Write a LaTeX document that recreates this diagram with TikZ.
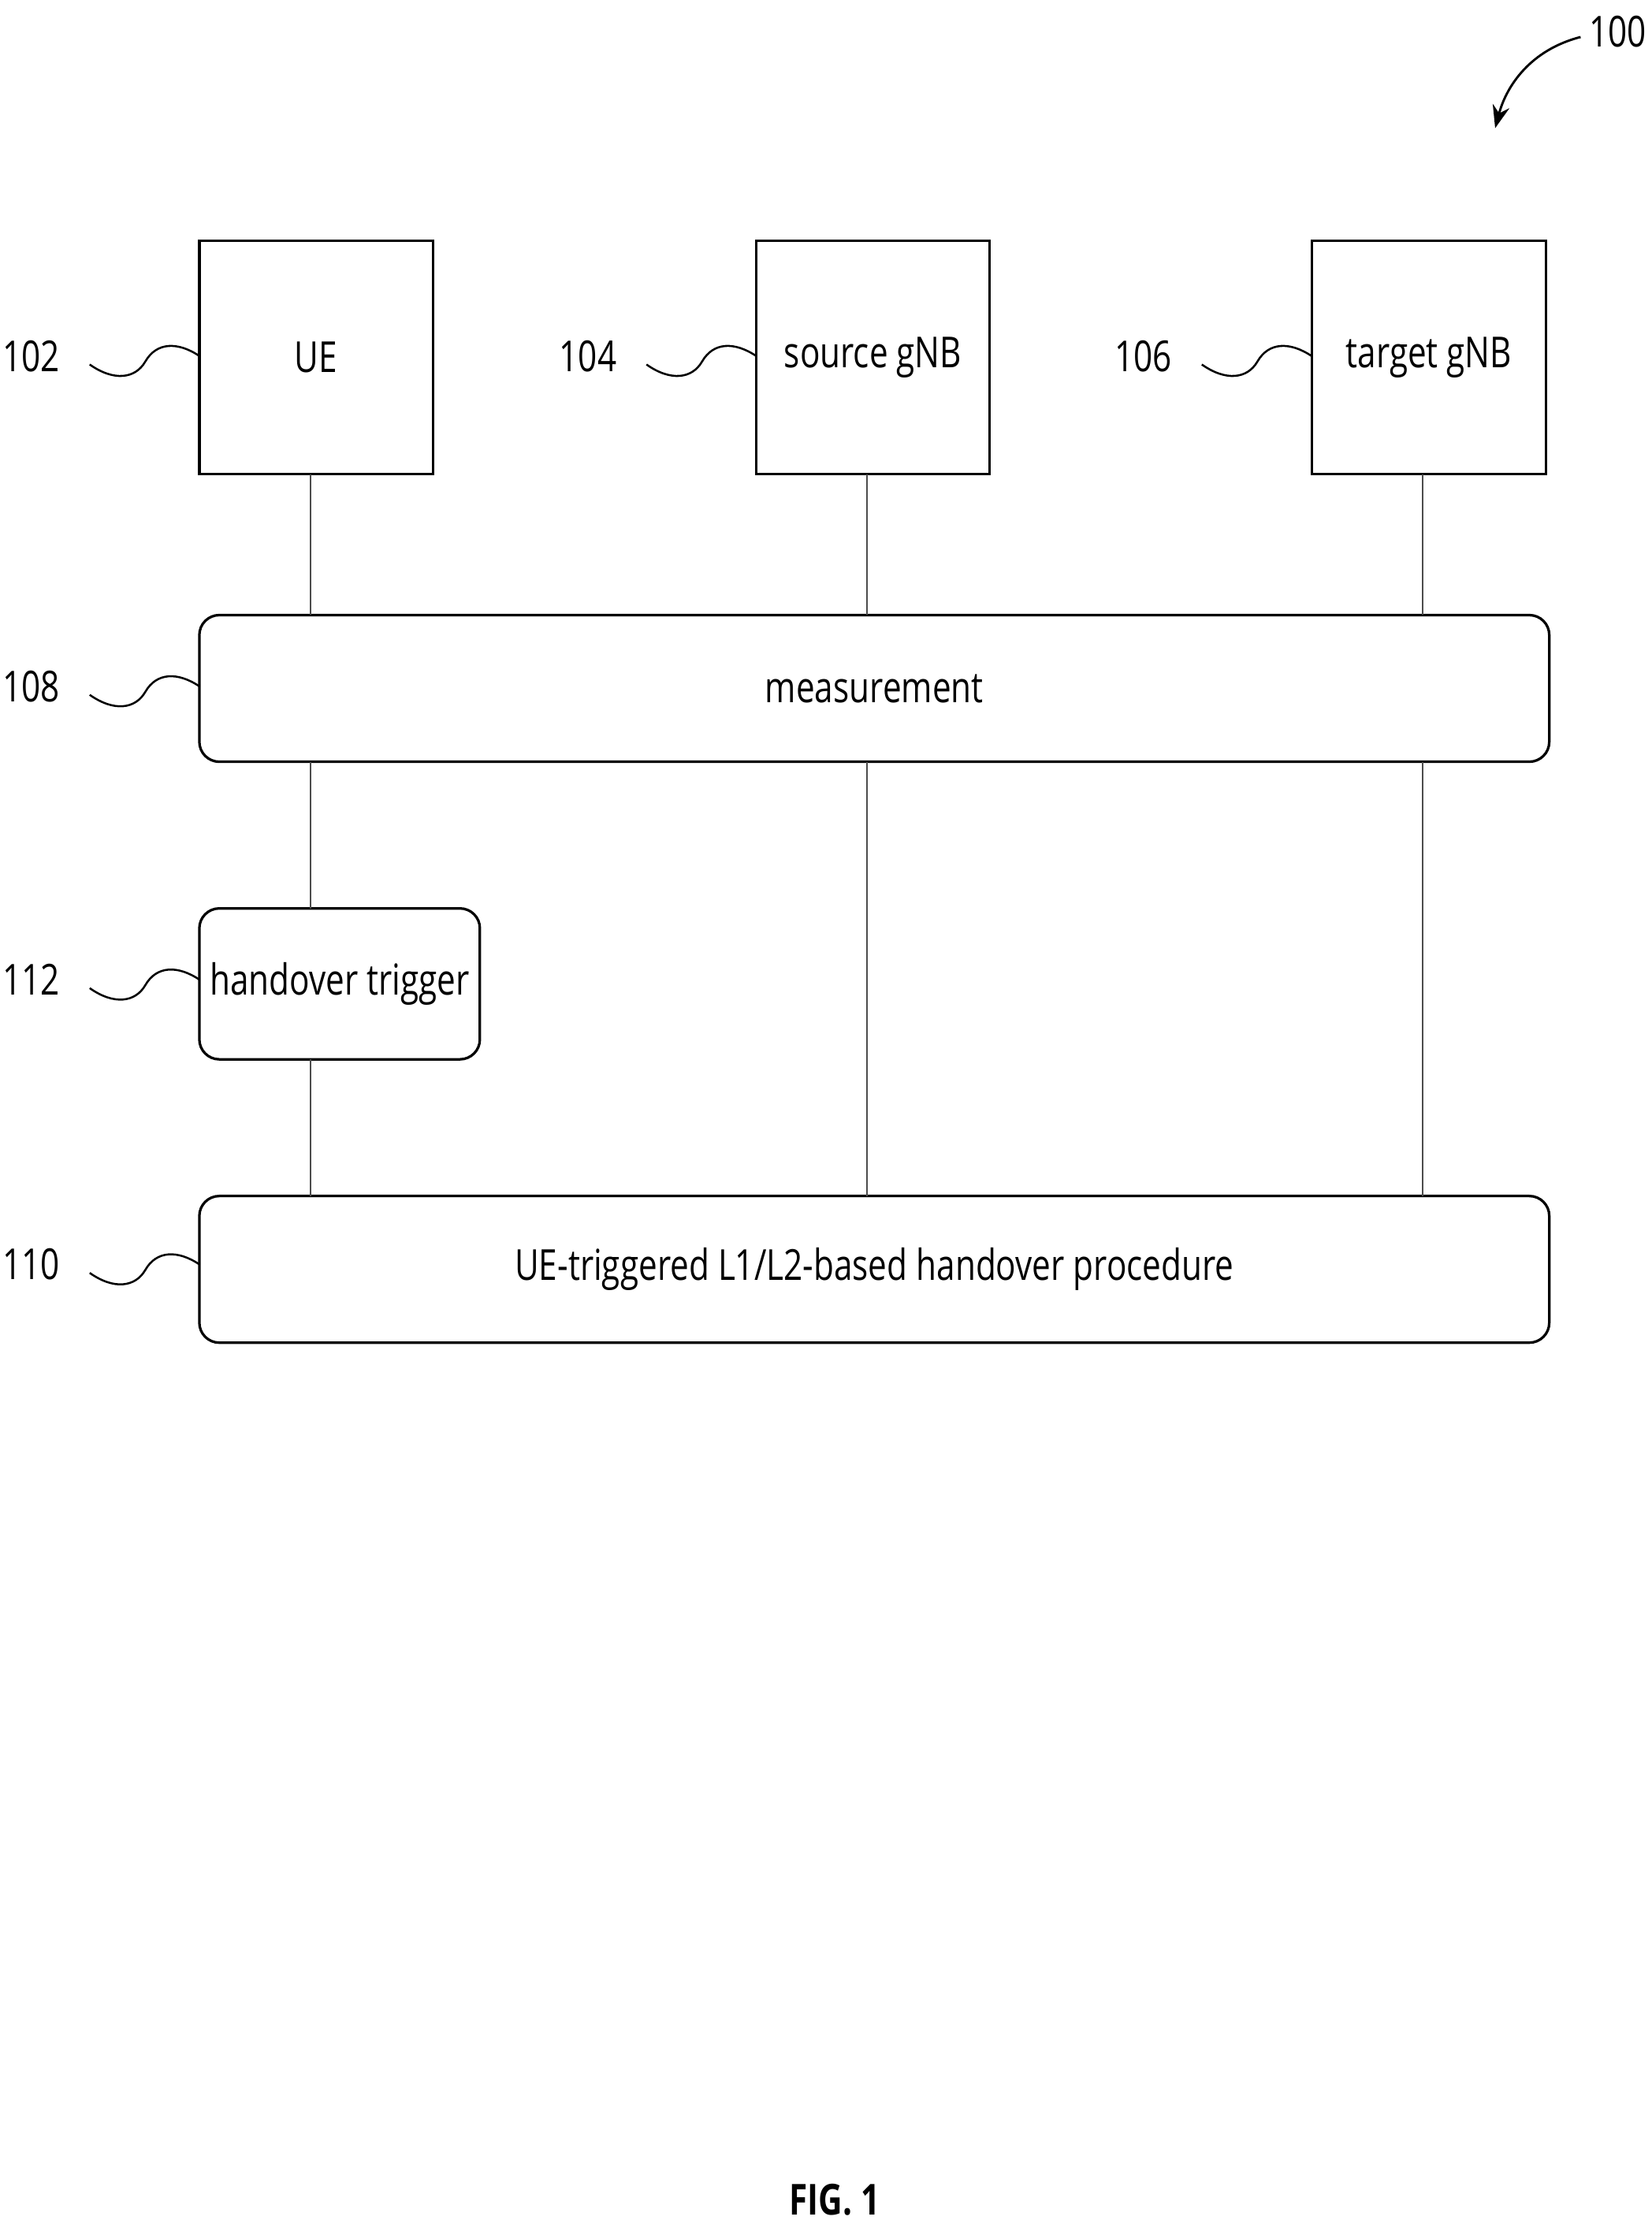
\documentclass[tikz,border=0pt]{standalone}
\usepackage{fontspec}
\setmainfont[FakeStretch=0.78]{Open Sans}
\usetikzlibrary{positioning,arrows.meta}
\tikzset{
  entity/.style={draw, line width=0.9pt, minimum width=82pt, minimum height=82pt, inner sep=0pt, font=\fontsize{15}{15}\selectfont},
  phase/.style={draw, line width=0.9pt, rounded corners=7pt, inner sep=0pt, font=\fontsize{15}{15}\selectfont},
  life/.style={line width=0.5pt, black!70},
  ref/.style={font=\fontsize{15}{15}\selectfont, anchor=east},
  squig/.style={line width=0.7pt}
}
\newcommand{\squiggle}[3]{% label, x shift, y
  \begin{scope}[xshift=#2*0.5pt]
  \draw[squig] (63,#3+4) .. controls (80,#3+16) and (95,#3+14) .. (102,#3+2)
     .. controls (110,#3-12) and (125,#3-12) .. (140,#3-2);
  \node[ref] at (49,#3-2) {#1};
  \end{scope}
}
\begin{document}
\begin{tikzpicture}[x=0.5pt,y=0.5pt,yscale=-1]
\useasboundingbox (0,0) rectangle (1160,1562);

\node[entity] (ue) at (222,251) {UE};
\node[entity] (src) at (613,251) {source gNB};
\node[entity] (tgt) at (1003.5,251) {target gNB};

\node[phase, minimum width=474pt, minimum height=51.5pt] (meas) at (614,483.5) {measurement};
\node[phase, minimum width=98.5pt, minimum height=53pt] (trig) at (238.5,691) {handover trigger};
\node[phase, minimum width=474pt, minimum height=51.5pt] (proc) at (614,891.5) {UE-triggered L1/L2-based handover procedure};

% lifelines
\draw[life] (218,333) -- (218,432);
\draw[life] (218,535) -- (218,638);
\draw[life] (218,744) -- (218,840);
\draw[life] (609,333) -- (609,432);
\draw[life] (609,535) -- (609,840);
\draw[life] (999,333) -- (999,432);
\draw[life] (999,535) -- (999,840);

\squiggle{102}{0}{252}
\squiggle{104}{391}{252}
\squiggle{106}{781}{252}
\squiggle{108}{0}{484}
\squiggle{112}{0}{690}
\squiggle{110}{0}{890}

% figure reference
\node[font=\fontsize{15}{15}\selectfont] (fignum) at (1136,22) {100};
\coordinate (figtip) at (1050,90);
\draw[line width=0.8pt, -{Stealth[length=8pt]}] (1110,26) .. controls (1075,35) and (1058,60) .. (figtip);

\node[font=\bfseries\fontsize{15}{15}\selectfont] (cap) at (586,1545) {FIG. 1};
\end{tikzpicture}
\end{document}
